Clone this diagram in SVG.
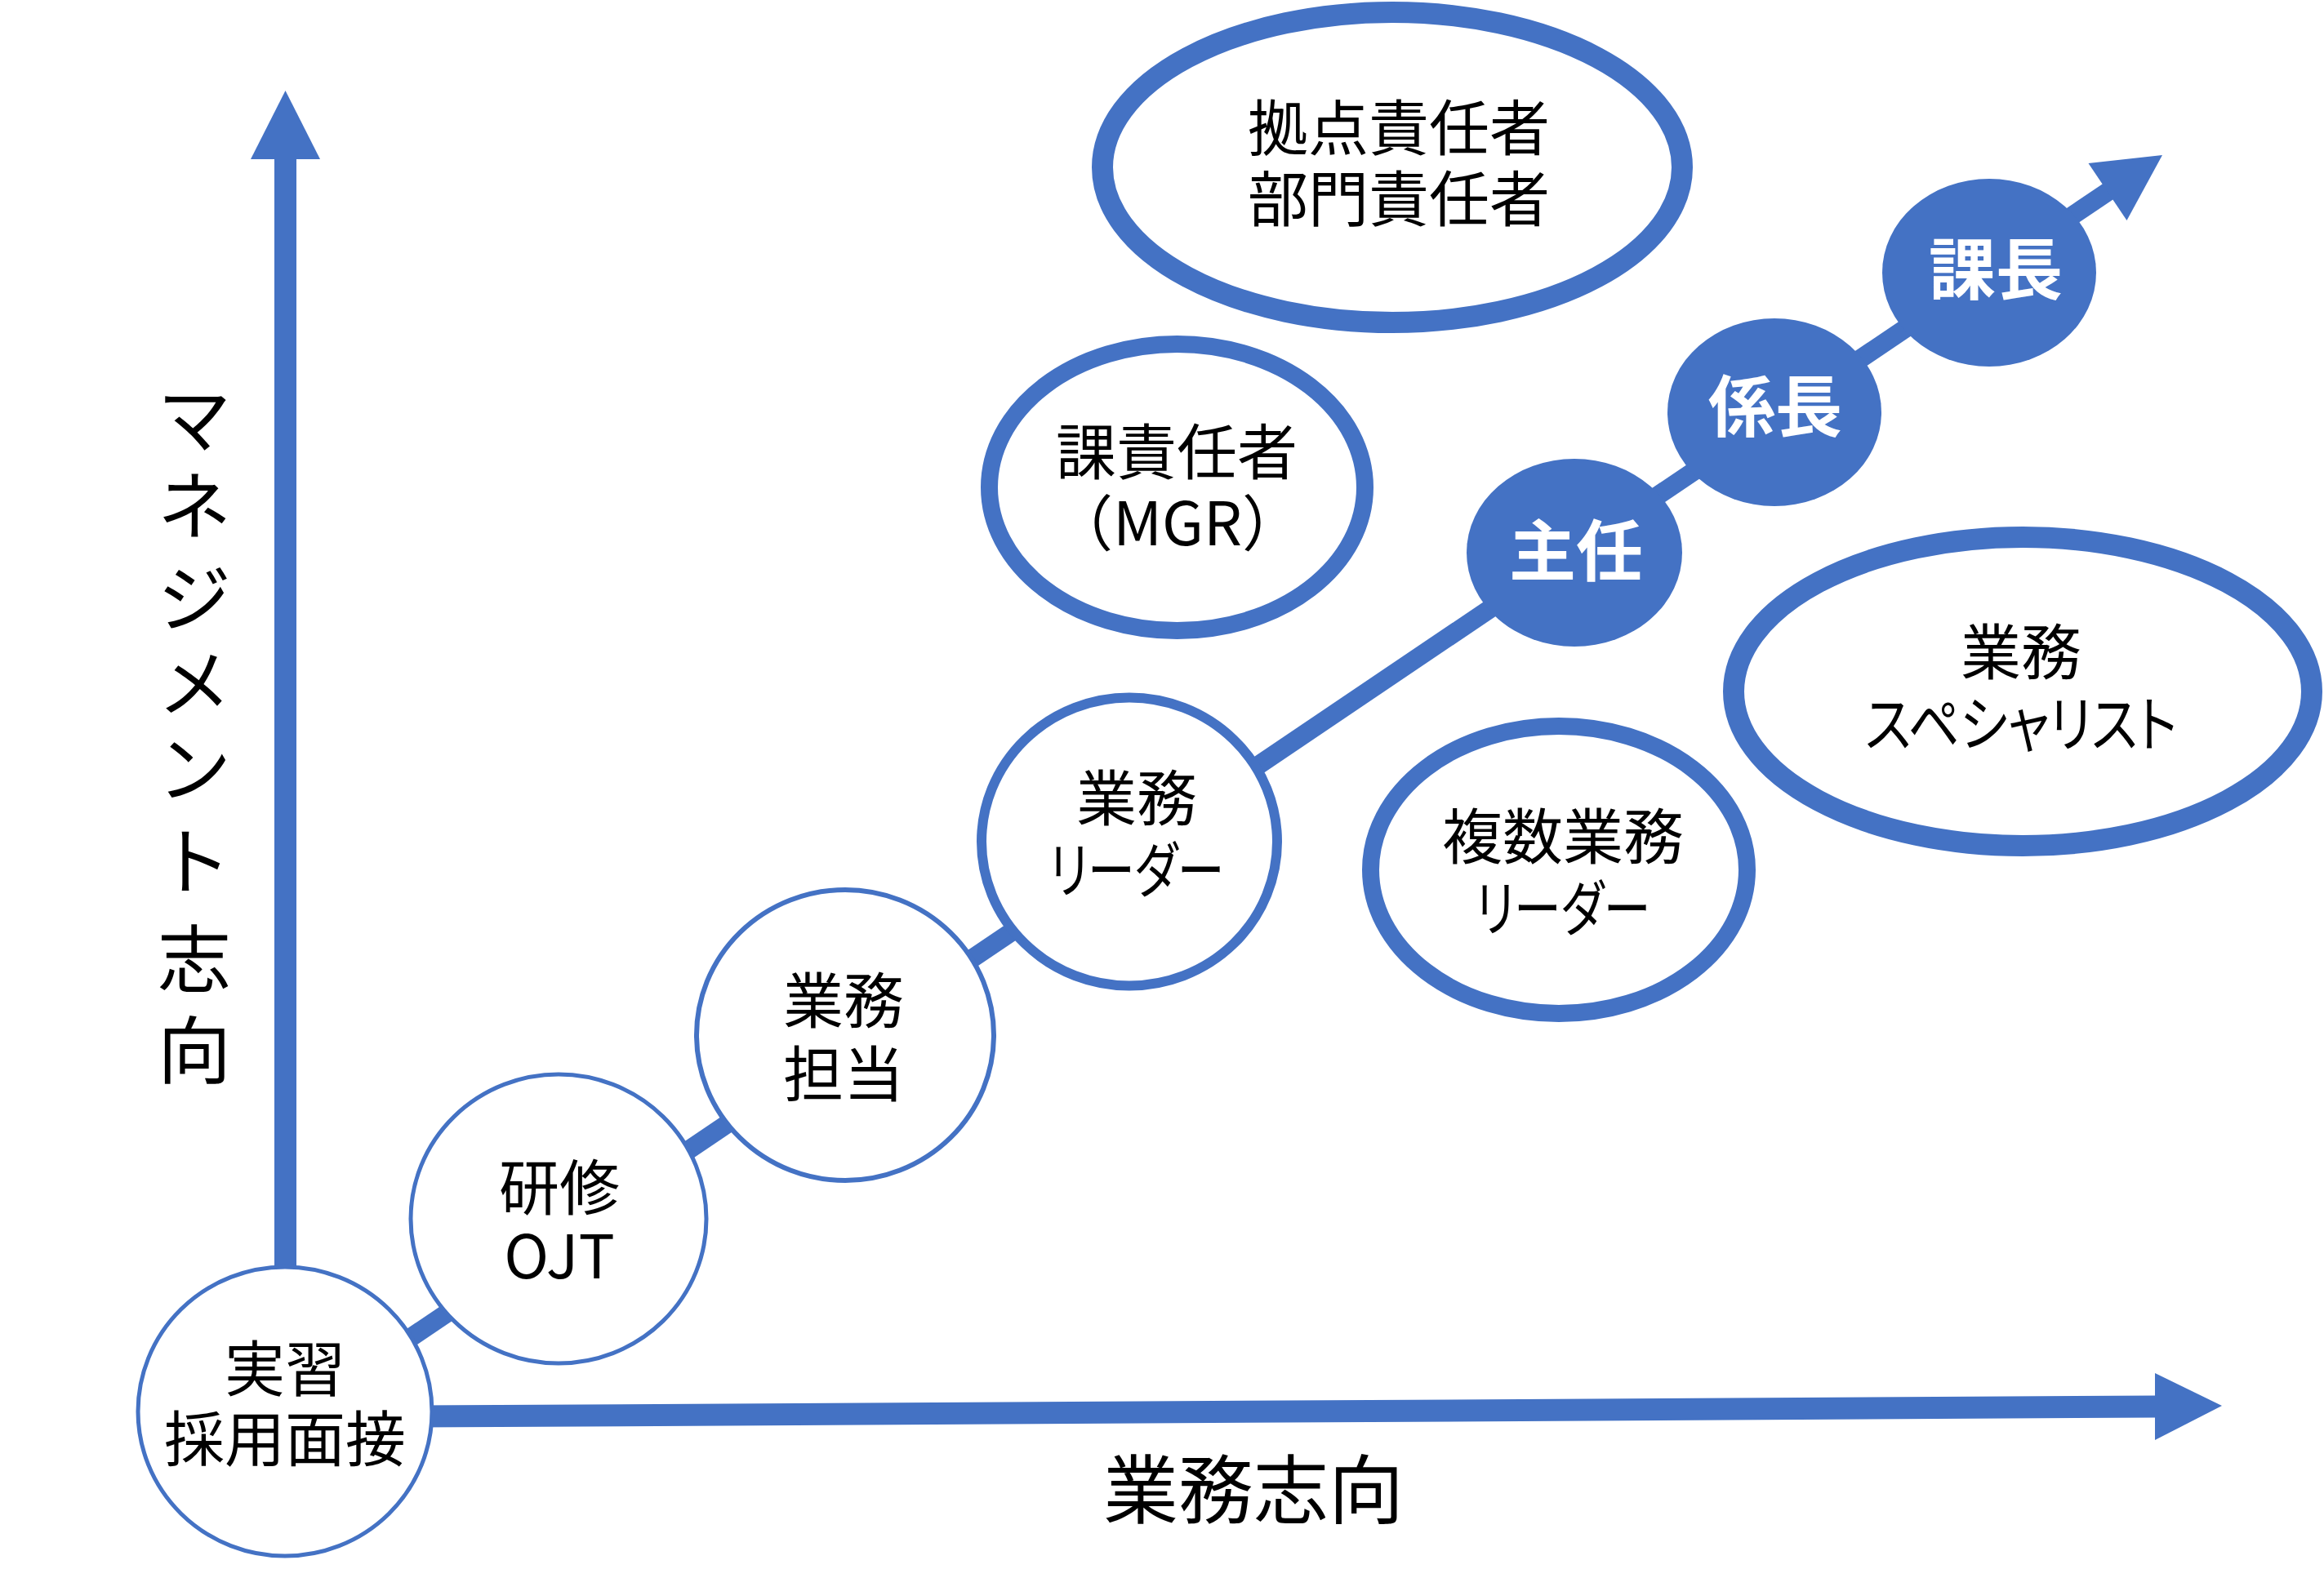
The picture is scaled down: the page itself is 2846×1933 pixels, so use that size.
<svg xmlns="http://www.w3.org/2000/svg" width="2846" height="1933" viewBox="0 0 2846 1933">
<style>
.bl{fill:#4472C4}
.ln{stroke:#4472C4;fill:none}
.nd{fill:#fff;stroke:#4472C4}
.t{font-family:"Noto Sans CJK JP","Noto Sans",sans-serif;font-size:74px;fill:#000;text-anchor:middle}
.k{font-feature-settings:"palt"}
.w{font-family:"Noto Sans CJK JP","Noto Sans",sans-serif;font-size:82px;font-weight:bold;fill:#fff;text-anchor:middle}
.lab{font-family:"Noto Sans CJK JP","Noto Sans",sans-serif;fill:#000;text-anchor:middle}
</style>
<rect width="2846" height="1933" fill="#fff"/>
<g id="connectors">
  <line class="ln" x1="349.5" y1="1560" x2="349.5" y2="190" stroke-width="27"/>
  <polygon class="bl" points="307,195 349.5,111 392,195"/>
  <line class="ln" x1="350" y1="1736" x2="2642" y2="1723" stroke-width="27"/>
  <polygon class="bl" points="2639,1682 2721,1722 2639,1764"/>
  <line class="ln" x1="400" y1="1708" x2="2584" y2="233" stroke-width="23"/>
  <polygon class="bl" points="2557.5,200 2648,190 2604.5,270"/>
</g>
<g id="axis-labels">
  <text class="lab" font-size="90"><tspan x="238" y="547">マ</tspan><tspan x="238" y="653">ネ</tspan><tspan x="238" y="766">ジ</tspan><tspan x="238" y="870">メ</tspan><tspan x="238" y="975">ン</tspan><tspan x="238" y="1088">ト</tspan><tspan x="238" y="1208">志</tspan><tspan x="238" y="1320">向</tspan></text>
  <text class="lab" font-size="92" x="1535" y="1859">業務志向</text>
</g>
<g id="n-jisshu">
  <ellipse class="nd" cx="349" cy="1729" rx="180" ry="177" stroke-width="5"/>
  <text class="t"><tspan x="349" y="1704">実習</tspan><tspan x="349" y="1790">採用面接</tspan></text>
</g>
<g id="n-kenshu">
  <ellipse class="nd" cx="684" cy="1493" rx="181" ry="177" stroke-width="5"/>
  <text class="t"><tspan x="685" y="1482">研修</tspan><tspan x="685" y="1566">OJT</tspan></text>
</g>
<g id="n-tanto">
  <ellipse class="nd" cx="1035" cy="1268" rx="182" ry="178" stroke-width="6"/>
  <text class="t"><tspan x="1033" y="1253">業務</tspan><tspan x="1033" y="1343">担当</tspan></text>
</g>
<g id="n-leader">
  <ellipse class="nd" cx="1383" cy="1031" rx="181" ry="176.5" stroke-width="12"/>
  <text class="t"><tspan x="1392" y="1005">業務</tspan><tspan class="k" x="1392" y="1093" textLength="214" lengthAdjust="spacingAndGlyphs">リーダー</tspan></text>
</g>
<g id="n-kasekinin">
  <ellipse class="nd" cx="1441.5" cy="597" rx="230" ry="175.5" stroke-width="21"/>
  <text class="t"><tspan x="1441" y="581">課責任者</tspan><tspan x="1442" y="668">（MGR）</tspan></text>
</g>
<g id="n-kyoten">
  <ellipse class="nd" cx="1705" cy="205" rx="355" ry="190" stroke-width="26"/>
  <text class="t"><tspan x="1713" y="184">拠点責任者</tspan><tspan x="1713" y="271">部門責任者</tspan></text>
</g>
<g id="n-fukusu">
  <ellipse class="nd" cx="1909" cy="1065.5" rx="230.5" ry="176" stroke-width="21"/>
  <text class="t"><tspan x="1914" y="1052">複数業務</tspan><tspan class="k" x="1914" y="1140" textLength="214" lengthAdjust="spacingAndGlyphs">リーダー</tspan></text>
</g>
<g id="n-specialist">
  <ellipse class="nd" cx="2477" cy="847" rx="354" ry="189" stroke-width="26"/>
  <text class="t"><tspan x="2475" y="826">業務</tspan><tspan class="k" x="2475" y="914" textLength="382" lengthAdjust="spacingAndGlyphs">スペシャリスト</tspan></text>
</g>
<g id="n-shunin">
  <ellipse class="bl" cx="1928" cy="677" rx="132" ry="115"/>
  <text class="w" x="1930" y="705">主任</text>
</g>
<g id="n-kakaricho">
  <ellipse class="bl" cx="2173" cy="505" rx="131" ry="115"/>
  <text class="w" x="2174" y="528">係長</text>
</g>
<g id="n-kacho">
  <ellipse class="bl" cx="2436" cy="334" rx="131" ry="115"/>
  <text class="w" x="2444" y="360">課長</text>
</g>
</svg>
